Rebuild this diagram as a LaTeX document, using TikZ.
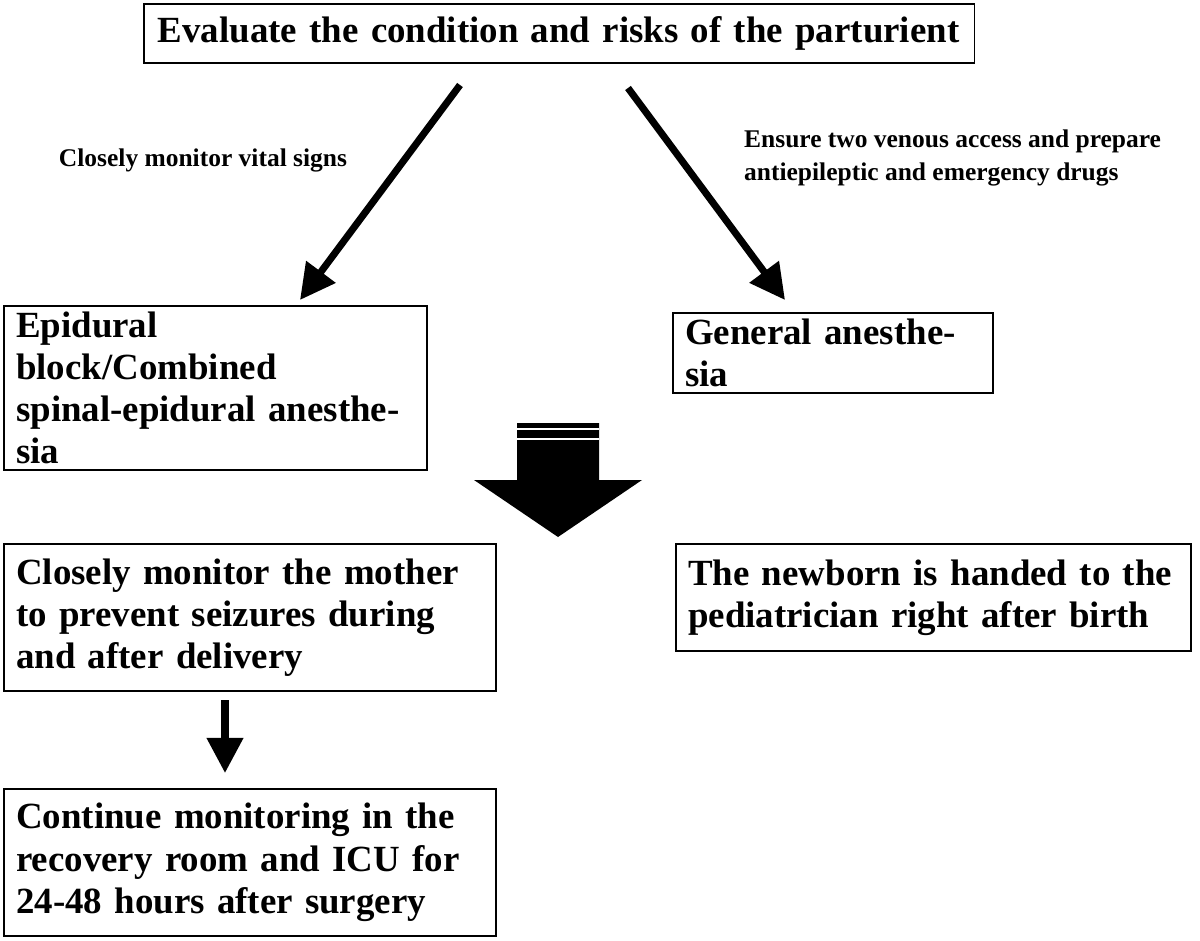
\documentclass[tikz,border=0pt]{standalone}
\usepackage{fontspec}
\setmainfont{Liberation Serif}
\usetikzlibrary{arrows.meta,positioning}
\tikzset{
  box/.style={rectangle,draw,line width=1pt,anchor=north west,align=left,inner xsep=7pt,
    font=\fontsize{21}{24}\selectfont\bfseries},
  flow/.style={-{Triangle[length=20pt,width=20pt]},line width=4pt},
  note/.style={font=\fontsize{14.5}{19}\selectfont\bfseries,align=left}
}
\begin{document}
\begin{tikzpicture}[x=0.02cm,y=-0.02cm]
    \useasboundingbox (0,0) rectangle (1200,940);
    % Top
    \node[box,text width=827*0.02cm-14pt,minimum height=59*0.02cm,inner xsep=8pt] (eval) at (143,3) {Evaluate the condition and risks of the parturient};
    % Anesthesia choices
    \node[box,text width=423*0.02cm-14pt,minimum height=105*0.02cm] (epid) at (3,305) {Epidural block/Combined\\spinal-epidural anesthesia};
    \node[box,text width=320*0.02cm-14pt,minimum height=58*0.02cm] (gen) at (672,312) {General anesthesia};
    \coordinate (s1) at (460,85);
    \coordinate (s2) at (628,88);
    \coordinate (e1) at (300,300);
    \coordinate (e2) at (785,300);
    \draw[flow] (s1) -- (e1);
    \draw[flow] (s2) -- (e2);
    \node[note,anchor=center] (vit) at (203,160) {Closely monitor vital signs};
    \node[note,anchor=west] (ens) at (738,158) {Ensure two venous access and prepare\\antiepileptic and emergency drugs};
    % Big arrow
    \fill (517,423) -- (599,423) -- (599,480) -- (642,480) -- (558,537) -- (474,480) -- (517,480) -- cycle;
    \draw[white,line width=0.8pt] (517,429) -- (599,429) (517,439) -- (599,439);
    % Lower boxes
    \node[box,text width=492*0.02cm-14pt,minimum height=147*0.02cm] (mom) at (3,543) {Closely monitor the mother\\to prevent seizures during\\and after delivery};
    \node[box,text width=515*0.02cm-14pt,minimum height=107*0.02cm] (baby) at (675,543) {The newborn is handed to the\\pediatrician right after birth};
    \node[box,text width=492*0.02cm-14pt,minimum height=147*0.02cm] (icu) at (3,788) {Continue monitoring in the\\recovery room and ICU for\\24-48 hours after surgery};
    \coordinate (m1) at (225,700);
    \coordinate (m2) at (225,773);
    \draw[flow] (m1) -- (m2);
\end{tikzpicture}
\end{document}
